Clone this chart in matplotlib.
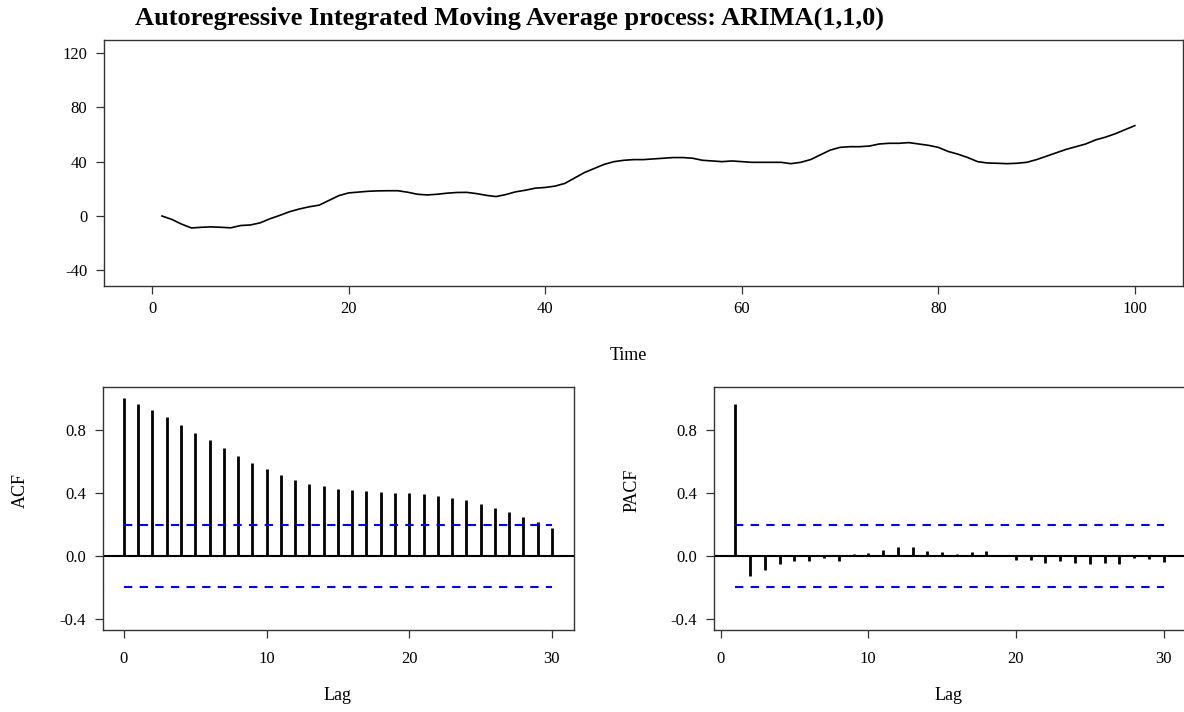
import numpy as np
import matplotlib
matplotlib.use("Agg")
import matplotlib.pyplot as plt

plt.rcParams['font.family'] = ['Liberation Serif', 'DejaVu Serif']
plt.rcParams['font.size'] = 12
plt.rcParams['axes.unicode_minus'] = False

# ARIMA(1,1,0) sample path, t = 1..100
serie = [0.0, -2.5, -6.0, -8.8, -8.3, -8.0, -8.3, -8.7, -7.0, -6.6,
         -5.0, -2.0, 0.5, 3.2, 5.2, 6.8, 8.0, 11.5, 15.0, 17.0,
         17.6, 18.2, 18.5, 18.6, 18.6, 17.5, 16.0, 15.5, 16.0, 16.8,
         17.3, 17.4, 16.5, 15.2, 14.3, 15.8, 17.8, 19.0, 20.5, 21.0,
         22.0, 24.0, 28.0, 32.0, 35.0, 38.0, 40.0, 41.0, 41.5, 41.5,
         42.0, 42.5, 43.0, 43.0, 42.5, 41.0, 40.5, 40.0, 40.5, 40.0,
         39.5, 39.5, 39.5, 39.5, 38.5, 39.5, 41.5, 45.0, 48.5, 50.5,
         51.0, 51.0, 51.5, 53.0, 53.5, 53.5, 54.0, 53.0, 52.0, 50.5,
         47.5, 45.5, 43.0, 40.0, 39.0, 38.8, 38.5, 38.8, 39.5, 41.5,
         44.0, 46.5, 49.0, 51.0, 53.0, 56.0, 58.0, 60.5, 63.5, 66.5]
tiempo = np.arange(1, len(serie) + 1)

# autocorrelaciones muestrales, lags 0..30
acf = [1.0, 0.965, 0.925, 0.880, 0.832, 0.783, 0.734, 0.686, 0.637, 0.593,
       0.550, 0.514, 0.483, 0.459, 0.442, 0.428, 0.417, 0.411, 0.404, 0.402,
       0.398, 0.392, 0.383, 0.370, 0.353, 0.332, 0.307, 0.277, 0.248, 0.214,
       0.176]
# autocorrelaciones parciales, lags 1..30
pacf = [0.965, -0.127, -0.091, -0.053, -0.032, -0.030, -0.015, -0.030, 0.013, 0.017,
        0.038, 0.055, 0.057, 0.030, 0.023, 0.015, 0.023, 0.032, 0.002, -0.025,
        -0.027, -0.044, -0.032, -0.042, -0.049, -0.042, -0.049, -0.015, -0.017, -0.038]

n = len(serie)
ic = 1.96 / np.sqrt(n)

W, H = 1184, 712
fig = plt.figure(figsize=(W / 100, H / 100), dpi=100)


def caja(x0, y0, x1, y1):
    # ejes en coordenadas de pixel (origen arriba a la izquierda)
    return fig.add_axes([x0 / W, 1 - y1 / H, (x1 - x0) / W, (y1 - y0) / H])


def estilo(ax):
    for s in ax.spines.values():
        s.set_color('#333333')
        s.set_linewidth(1.0)
    ax.tick_params(direction='out', length=6, width=0.9, color='#333333',
                   labelsize=12, pad=6)


# serie de tiempo
ax1 = caja(104, 40, 1183, 286)
ax1.plot(tiempo, serie, color='black', lw=1.2)
ax1.set_xlim(-4.9, 104.9)
ax1.set_ylim(-51.5, 129.5)
ax1.set_xticks([0, 20, 40, 60, 80, 100])
ax1.set_yticks([-40, 0, 40, 80, 120])
estilo(ax1)
ax1.tick_params(axis='x', pad=5)
fig.text(135 / W, 1 - 18 / H, 'Autoregressive Integrated Moving Average process: ARIMA(1,1,0)',
         fontsize=19, fontweight='bold', ha='left', va='center')
fig.text(628 / W, 1 - 355 / H, 'Time', fontsize=13, ha='center', va='center')

# ACF
ax2 = caja(103, 387, 574, 630)
lags = np.arange(len(acf))
ax2.vlines(lags, 0, acf, color='black', lw=2)
ax2.axhline(0, color='black', lw=1.5)
ax2.hlines([ic, -ic], 0, lags[-1], colors='blue', linestyles=(0, (4, 3.5)), lw=1.5)
ax2.set_xlim(-1.47, 31.55)
ax2.set_ylim(-0.47, 1.073)
ax2.set_xticks([0, 10, 20, 30])
ax2.set_yticks([-0.4, 0.0, 0.4, 0.8])
ax2.set_yticklabels(['-0.4', '0.0', '0.4', '0.8'])
estilo(ax2)
ax2.tick_params(axis='x', pad=9)
fig.text(20 / W, 1 - 490 / H, 'ACF', fontsize=13, rotation=90, ha='center', va='center')
fig.text(338 / W, 1 - 695 / H, 'Lag', fontsize=13, ha='center', va='center')

# PACF
ax3 = caja(714, 387, 1185, 630)
plags = np.arange(1, len(pacf) + 1)
ax3.vlines(plags, 0, pacf, color='black', lw=2)
ax3.axhline(0, color='black', lw=1.5)
ax3.hlines([ic, -ic], 1, plags[-1], colors='blue', linestyles=(0, (4, 3.5)), lw=1.5)
ax3.set_xlim(-0.45, 31.45)
ax3.set_ylim(-0.47, 1.073)
ax3.set_xticks([0, 10, 20, 30])
ax3.set_yticks([-0.4, 0.0, 0.4, 0.8])
ax3.set_yticklabels(['-0.4', '0.0', '0.4', '0.8'])
estilo(ax3)
ax3.tick_params(axis='x', pad=9)
fig.text(632 / W, 1 - 490 / H, 'PACF', fontsize=13, rotation=90, ha='center', va='center')
fig.text(949 / W, 1 - 695 / H, 'Lag', fontsize=13, ha='center', va='center')

fig.savefig('out.png', dpi=100)
